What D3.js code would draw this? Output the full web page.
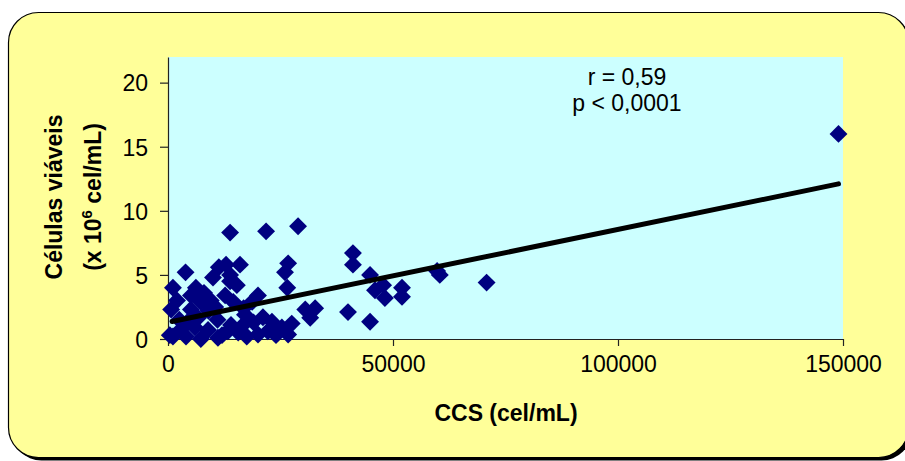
<!DOCTYPE html>
<html>
<head>
<meta charset="utf-8">
<script src="https://cdn.jsdelivr.net/npm/d3@7"></script>
<style>
  html, body { margin: 0; padding: 0; background: #ffffff; }
  svg { display: block; font-family: "Liberation Sans", Arial, sans-serif; }
</style>
</head>
<body>
<svg id="chart" width="905" height="461"></svg>
<script>
// CCS (cel/mL)
const ccs = [149000, 70800, 59800, 60400, 52000, 52000, 48200, 47800, 46000, 44900,
  44900, 41100, 41100, 40000, 32700, 31600, 30500, 28900, 21800, 13800,
  26700, 26000, 26500, 16000, 12900, 11300, 13800, 15300, 10000, 3900,
  12700, 13800, 6200, 5100, 7300, 1100, 700, 1100, 400, 6700,
  8900, 4000, 7300, 11100, 13300, 4400, 5100, 20000, 18700, 14500,
  17100, 21100, 23100, 25300, 26700, 22200, 20000, 15600, 16700, 14000,
  11000, 9000, 8000, 9500, 2500, 3000, 16800, 19000, 10500, 12000,
  17500, 24000, 27500, 6000, 2000];
// Células viáveis (x 10^6 cel/mL)
const viaveis = [16.0, 4.4, 5.3, 5.0, 4.0, 3.3, 3.2, 4.2, 3.8, 5.0,
  1.35, 6.7, 5.8, 2.1, 2.4, 1.65, 2.3, 8.8, 8.4, 8.3,
  5.9, 5.2, 4.0, 5.8, 5.8, 5.6, 5.0, 4.2, 4.8, 5.2,
  3.4, 4.5, 4.0, 3.4, 2.9, 4.0, 2.3, 0.2, 0.3, 1.65,
  0.7, 0.2, 0.0, 0.1, 0.6, 1.35, 2.3, 3.4, 2.9, 2.9,
  1.9, 1.7, 1.35, 0.9, 0.35, 0.6, 0.35, 0.5, 1.1, 1.1,
  1.5, 2.2, 3.6, 3.0, 1.5, 0.8, 2.4, 1.3, 2.5, 0.3,
  0.2, 0.3, 1.2, 0.9, 3.0];
// trend line endpoints
const trendX = [900, 149000];
const trendY = [1.37, 12.1];
const xTicks = [0, 50000, 100000, 150000];
const yTicks = [0, 5, 10, 15, 20];
const statLines = ["r = 0,59", "p < 0,0001"];

const svg = d3.select("#chart");

// outer frame with shadow
svg.append("rect").attr("x", 11.5).attr("y", 15.5).attr("width", 900).attr("height", 445)
  .attr("rx", 30).attr("fill", "#000");
svg.append("rect").attr("x", 8.5).attr("y", 12.5).attr("width", 900).attr("height", 445)
  .attr("rx", 30).attr("fill", "#FFFF99").attr("stroke", "#000").attr("stroke-width", 1.2);

const L = 168, R = 843, T = 57, B = 339;
const x = d3.scaleLinear().domain([0, 150000]).range([L, R]);
const y = d3.scaleLinear().domain([0, 22]).range([B, T]);

svg.append("rect").attr("x", L).attr("y", T).attr("width", R - L).attr("height", B - T)
  .attr("fill", "#CCFFFF");

const fs = 23;
// axes
const xAxis = svg.append("g").attr("transform", `translate(0,${B})`)
  .call(d3.axisBottom(x).tickValues(xTicks).tickFormat(d3.format("d")).tickSize(7).tickSizeOuter(0).tickPadding(10));
const yAxis = svg.append("g").attr("transform", `translate(${L},0)`)
  .call(d3.axisLeft(y).tickValues(yTicks).tickSize(8).tickSizeOuter(0).tickPadding(12));
[xAxis, yAxis].forEach(g => {
  g.select(".domain").attr("stroke", "#222").attr("stroke-width", 1.2);
  g.selectAll(".tick line").attr("stroke", "#222").attr("stroke-width", 1.2);
  g.selectAll(".tick text").attr("font-size", fs).attr("fill", "#000")
    .attr("font-family", "'Liberation Sans', Arial, sans-serif");
});
yAxis.selectAll(".tick text").attr("dy", "0.36em");

// points
const pts = ccs.map((c, i) => ({ c, v: viaveis[i] }));
const sym = d3.symbol().type(d3.symbolSquare).size(160);
svg.append("g").selectAll("path").data(pts).join("path")
  .attr("d", sym)
  .attr("transform", d => `translate(${x(d.c)},${y(d.v)}) rotate(45)`)
  .attr("fill", "#000080");

// trend line
svg.append("line")
  .attr("x1", x(trendX[0])).attr("y1", y(trendY[0]))
  .attr("x2", x(trendX[1])).attr("y2", y(trendY[1]))
  .attr("stroke", "#000").attr("stroke-width", 5).attr("stroke-linecap", "round");

// stats
svg.append("g").selectAll("text").data(statLines).join("text")
  .attr("x", 627).attr("y", (d, i) => 85 + i * 26)
  .attr("text-anchor", "middle").attr("font-size", fs).attr("fill", "#000")
  .text(d => d);

// axis titles
svg.append("text").attr("x", 506).attr("y", 421).attr("text-anchor", "middle")
  .attr("font-size", fs).attr("font-weight", "bold").text("CCS (cel/mL)");

const yt = svg.append("text").attr("transform", "translate(62,197) rotate(-90)")
  .attr("text-anchor", "middle").attr("font-size", fs).attr("font-weight", "bold");
yt.append("tspan").attr("x", 0).attr("dy", 0).text("Células viáveis");
const l2 = svg.append("text").attr("transform", "translate(101,197) rotate(-90)")
  .attr("text-anchor", "middle").attr("font-size", fs).attr("font-weight", "bold");
l2.append("tspan").text("(x 10");
l2.append("tspan").attr("font-size", 15).attr("dy", -9).text("6");
l2.append("tspan").attr("dy", 9).text(" cel/mL)");
</script>
</body>
</html>
